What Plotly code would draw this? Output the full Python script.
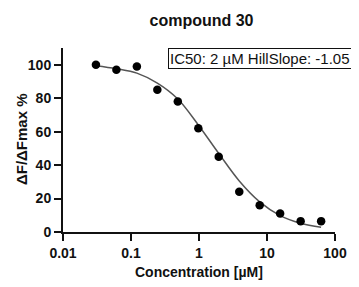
import plotly.graph_objects as go

# Data
concentration = [0.0305, 0.061, 0.122, 0.244, 0.488, 0.977, 1.95, 3.91, 7.81, 15.6, 31.25, 62.5]
response = [100, 97, 99, 85, 78, 62, 45, 24, 16, 11, 6.5, 6.5]
fit_response = [99.4, 97.6, 95, 89, 79.5, 64, 47, 30.5, 18, 9.8, 5.2, 2.8]
x_tickvals = [0.01, 0.1, 1, 10, 100]
x_ticktext = ["0.01", "0.1", "1", "10", "100"]
y_tickvals = [0, 20, 40, 60, 80, 100]

FONT = "Liberation Sans, Arial, sans-serif"
INK = "#111111"

# page body has an 8px default margin, so the figure is 8px smaller
W, H = 351, 279
L, R, T, B = 55, 19, 40, 54.5
PW = W - L - R
PH = H - T - B

fig = go.Figure()
fig.add_trace(go.Scatter(
    x=concentration, y=fit_response, mode="lines",
    line=dict(color="#555555", width=1.5, shape="spline", smoothing=1.0),
    hoverinfo="skip", showlegend=False))
fig.add_trace(go.Scatter(
    x=concentration, y=response, mode="markers",
    marker=dict(color="black", size=8.5), showlegend=False))

fig.update_layout(
    width=W, height=H,
    margin=dict(l=L, r=R, t=T, b=B, pad=0),
    paper_bgcolor="white", plot_bgcolor="white",
    font=dict(family=FONT, color=INK),
    title=dict(text="compound 30", x=193.5 / W, xanchor="center", xref="container",
               y=1 - 12.5 / H, yanchor="middle", yref="container",
               font=dict(family=FONT, size=16, weight="bold", color=INK)),
    xaxis=dict(type="log", range=[-2, 2], tickvals=x_tickvals, ticktext=x_ticktext,
               showgrid=False, zeroline=False, showline=True, linecolor=INK,
               linewidth=2, ticks="outside", ticklen=7, tickwidth=2, tickcolor=INK,
               tickfont=dict(family=FONT, size=14, weight="bold", color=INK)),
    yaxis=dict(range=[0, 110], tickvals=y_tickvals, showgrid=False, zeroline=False,
               showline=True, linecolor=INK, linewidth=2, ticks="outside",
               ticklen=7, tickwidth=2, tickcolor=INK,
               tickfont=dict(family=FONT, size=14, weight="bold", color=INK)),
    annotations=[
        dict(text="IC50: 2 µM HillSlope: -1.05", xref="paper", yref="paper",
             x=(349 - L) / PW, xanchor="right", y=(PH - (50.5 - T)) / PH,
             yanchor="middle", showarrow=False,
             bordercolor=INK, borderwidth=1, borderpad=1, bgcolor="white",
             font=dict(family=FONT, size=15, color=INK)),
        dict(text="Concentration [µM]", xref="paper", yref="paper",
             x=(193.7 - L) / PW, xanchor="center", y=-(265 - (H - B)) / PH,
             yanchor="middle", showarrow=False,
             font=dict(family=FONT, size=14, weight="bold", color=INK)),
        dict(text="ΔF/ΔFmax %", xref="paper", yref="paper", textangle=-90,
             x=-(L - 12.5) / PW, xanchor="center", y=((H - B) - 131) / PH,
             yanchor="middle", showarrow=False,
             font=dict(family=FONT, size=15, weight="bold", color=INK)),
    ],
)

fig.write_html("out.html")
